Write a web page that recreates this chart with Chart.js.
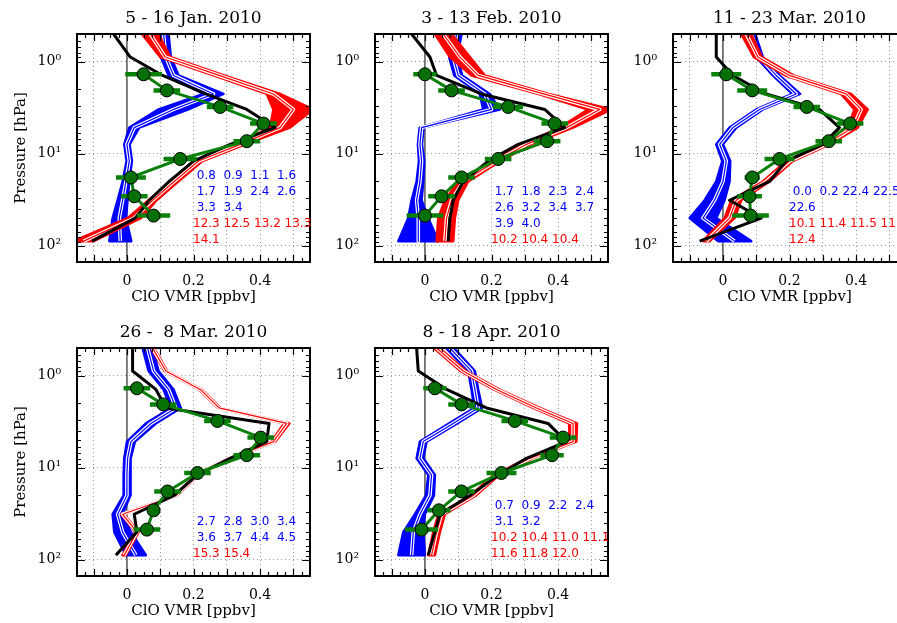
<!DOCTYPE html>
<html>
<head>
<meta charset="utf-8">
<script src="https://cdn.jsdelivr.net/npm/chart.js@4.4.1/dist/chart.umd.min.js"></script>
<style>
  html, body { margin: 0; padding: 0; background: #fff; width: 897px; height: 623px; overflow: hidden; position: relative; }
  .panel { position: absolute; width: 320px; height: 310px; }
</style>
</head>
<body>
<div class="panel" style="left:0;top:0"><canvas id="c0" width="320" height="310"></canvas></div>
<div class="panel" style="left:298px;top:0"><canvas id="c1" width="320" height="310"></canvas></div>
<div class="panel" style="left:596px;top:0"><canvas id="c2" width="320" height="310"></canvas></div>
<div class="panel" style="left:0;top:314px"><canvas id="c3" width="320" height="310"></canvas></div>
<div class="panel" style="left:298px;top:314px"><canvas id="c4" width="320" height="310"></canvas></div>
<script>
/* ===== ClO profiles : model (blue / red), black run, observations (green) ===== */

// pressure levels [hPa]
const MODEL_P = [0.5, 0.89, 1.41, 2.24, 3.3, 5.2, 7.9, 12, 20, 32, 50, 89];
const OBS_P = [1.37, 2.05, 3.1, 4.7, 7.3, 11.4, 18.1, 29, 47];

// axes
const X_GRID = [-0.1, 0, 0.1, 0.2, 0.3, 0.4, 0.5];
const X_LABELS = [0, 0.2, 0.4];
const Y_TICKS = [1, 10, 100];
const Y_LABELS = ['10⁰', '10¹', '10²'];

const TITLES = ['5 - 16 Jan. 2010', '3 - 13 Feb. 2010', '11 - 23 Mar. 2010', '26 -  8 Mar. 2010', '8 - 18 Apr. 2010'];

// ---- 5 - 16 Jan ----
const janBlue   = [0.11, 0.117, 0.14, 0.26, 0.14, 0.022, 0.0, 0.007, -0.003, -0.013, -0.023, -0.02];
const janBlueW  = [0.015, 0.015, 0.015, 0.03, 0.045, 0.015, 0.008, 0.008, 0.01, 0.015, 0.02, 0.033];
const janRed    = [0.07, 0.115, 0.277, 0.44, 0.50, 0.46, 0.34, 0.215, 0.142, 0.077, 0.022, -0.13];
const janRedW   = [0.025, 0.015, 0.015, 0.02, 0.06, 0.03, 0.015, 0.012, 0.012, 0.012, 0.02, 0.03];
const janBlack  = [-0.04, 0.01, 0.107, 0.237, 0.36, 0.445, 0.31, 0.2, 0.127, 0.067, 0.025, -0.105];
const janObs    = [0.05, 0.12, 0.28, 0.41, 0.36, 0.16, 0.012, 0.022, 0.08];
const janObsErr = [0.055, 0.04, 0.04, 0.04, 0.04, 0.05, 0.045, 0.04, 0.05];
const janBlueTxt = [0.8, 0.9, 1.1, 1.6, 1.7, 1.9, 2.4, 2.6, 3.3, 3.4];
const janRedTxt  = [12.3, 12.5, 13.2, 13.3, 14.1];

// ---- 3 - 13 Feb ----
const febBlue   = [0.095, 0.085, 0.1, 0.18, 0.2, -0.01, -0.015, -0.01, -0.015, -0.025, -0.02, -0.02];
const febBlueW  = [0.015, 0.012, 0.012, 0.015, 0.025, 0.006, 0.006, 0.008, 0.01, 0.015, 0.03, 0.06];
const febRed    = [0.055, 0.105, 0.16, 0.357, 0.525, 0.425, 0.305, 0.215, 0.115, 0.08, 0.065, 0.06];
const febRedW   = [0.025, 0.03, 0.02, 0.015, 0.035, 0.02, 0.012, 0.012, 0.015, 0.02, 0.025, 0.025];
const febBlack  = [-0.04, 0.015, 0.035, 0.17, 0.36, 0.42, 0.28, 0.19, 0.115, 0.085, 0.075, 0.07];
const febObs    = [0.0, 0.08, 0.25, 0.39, 0.367, 0.22, 0.11, 0.05, 0.0];
const febObsErr = [0.035, 0.04, 0.045, 0.04, 0.04, 0.04, 0.04, 0.04, 0.055];
const febBlueTxt = [1.7, 1.8, 2.3, 2.4, 2.6, 3.2, 3.4, 3.7, 3.9, 4.0];
const febRedTxt  = [10.2, 10.4, 10.4];

// ---- 11 - 23 Mar ----
const marBlue   = [0.085, 0.11, 0.16, 0.22, 0.11, 0.03, -0.01, 0.01, 0.0, -0.025, -0.06, 0.035];
const marBlueW  = [0.012, 0.01, 0.01, 0.012, 0.01, 0.01, 0.01, 0.012, 0.02, 0.03, 0.04, 0.05];
const marRed    = [0.07, 0.105, 0.2, 0.37, 0.415, 0.39, 0.31, 0.2, 0.13, 0.04, 0.02, -0.05];
const marRedW   = [0.015, 0.012, 0.012, 0.015, 0.02, 0.015, 0.01, 0.01, 0.01, 0.015, 0.015, 0.01];
const marBlack  = [-0.02, -0.02, 0.03, 0.13, 0.29, 0.35, 0.3, 0.19, 0.14, 0.02, 0.115, -0.07];
const marObs    = [0.01, 0.088, 0.252, 0.382, 0.318, 0.17, 0.088, 0.08, 0.083];
const marObsErr = [0.045, 0.045, 0.04, 0.04, 0.04, 0.045, 0.023, 0.037, 0.055];
const marBlueTxt = [0.0, 0.2, 22.4, 22.5, 22.6];
const marRedTxt  = [10.1, 11.4, 11.5, 11.7, 12.4];

// ---- 26 - 8 Mar ----
const earlyBlue   = [0.062, 0.08, 0.125, 0.147, 0.072, 0.012, 0.002, 0.0, 0.0, -0.028, -0.013, 0.027];
const earlyBlueW  = [0.015, 0.015, 0.015, 0.015, 0.015, 0.012, 0.01, 0.01, 0.01, 0.015, 0.025, 0.03];
const earlyRed    = [0.077, 0.117, 0.22, 0.277, 0.48, 0.44, 0.31, 0.21, 0.147, -0.013, 0.03, -0.008];
const earlyRedW   = [0.004, 0.004, 0.004, 0.004, 0.008, 0.006, 0.004, 0.004, 0.004, 0.004, 0.005, 0.005];
const earlyBlack  = [0.017, 0.017, 0.087, 0.117, 0.427, 0.42, 0.31, 0.21, 0.142, 0.022, 0.03, -0.033];
const earlyObs    = [0.03, 0.109, 0.272, 0.402, 0.36, 0.212, 0.122, 0.08, 0.06];
const earlyObsErr = [0.04, 0.04, 0.04, 0.04, 0.04, 0.04, 0.04, 0.02, 0.04];
const earlyBlueTxt = [2.7, 2.8, 3.0, 3.4, 3.6, 3.7, 4.4, 4.5];
const earlyRedTxt  = [15.3, 15.4];

// ---- 8 - 18 Apr ----
const aprBlue   = [0.075, 0.14, 0.15, 0.16, 0.085, -0.005, -0.015, 0.02, 0.015, -0.015, -0.035, -0.04];
const aprBlueW  = [0.012, 0.01, 0.01, 0.012, 0.012, 0.01, 0.01, 0.01, 0.012, 0.015, 0.03, 0.04];
const aprRed    = [0.035, 0.115, 0.215, 0.335, 0.445, 0.445, 0.315, 0.215, 0.145, 0.05, 0.035, 0.02];
const aprRedW   = [0.008, 0.008, 0.008, 0.01, 0.012, 0.01, 0.008, 0.008, 0.008, 0.01, 0.01, 0.01];
const aprBlack  = [-0.025, -0.02, 0.065, 0.185, 0.37, 0.425, 0.305, 0.22, 0.135, 0.045, 0.03, 0.01];
const aprObs    = [0.03, 0.11, 0.27, 0.415, 0.382, 0.23, 0.11, 0.042, -0.01];
const aprObsErr = [0.035, 0.04, 0.04, 0.04, 0.035, 0.045, 0.04, 0.035, 0.05];
const aprBlueTxt = [0.7, 0.9, 2.2, 2.4, 3.1, 3.2];
const aprRedTxt  = [10.2, 10.4, 11.0, 11.1, 11.6, 11.8, 12.0];

const PANELS = [
  { id: 'c0', yTitle: true,  title: TITLES[0], blue: janBlue, blueW: janBlueW, red: janRed, redW: janRedW, black: janBlack, obs: janObs, err: janObsErr, blueTxt: janBlueTxt, redTxt: janRedTxt },
  { id: 'c1', yTitle: false, title: TITLES[1], blue: febBlue, blueW: febBlueW, red: febRed, redW: febRedW, black: febBlack, obs: febObs, err: febObsErr, blueTxt: febBlueTxt, redTxt: febRedTxt },
  { id: 'c2', yTitle: false, title: TITLES[2], blue: marBlue, blueW: marBlueW, red: marRed, redW: marRedW, black: marBlack, obs: marObs, err: marObsErr, blueTxt: marBlueTxt, redTxt: marRedTxt },
  { id: 'c3', yTitle: true,  title: TITLES[3], blue: earlyBlue, blueW: earlyBlueW, red: earlyRed, redW: earlyRedW, black: earlyBlack, obs: earlyObs, err: earlyObsErr, blueTxt: earlyBlueTxt, redTxt: earlyRedTxt },
  { id: 'c4', yTitle: false, title: TITLES[4], blue: aprBlue, blueW: aprBlueW, red: aprRed, redW: aprRedW, black: aprBlack, obs: aprObs, err: aprObsErr, blueTxt: aprBlueTxt, redTxt: aprRedTxt }
];

const SERIF = 'DejaVu Serif';
const GREEN = '#0a800a';

// ---- helpers ----
function profile(xs, ps) {
  return xs.map((v, i) => ({ x: v, y: ps[i] }));
}

function band(c, w, ps) {
  const lo = c.map((v, i) => ({ x: v - w[i], y: ps[i] }));
  const hi = c.map((v, i) => ({ x: v + w[i], y: ps[i] })).reverse();
  return lo.concat(hi);
}

function errorBars(v, e, ps) {
  const out = [];
  v.forEach((val, i) => {
    out.push({ x: val - e[i], y: ps[i] }, { x: val + e[i], y: ps[i] }, { x: NaN, y: NaN });
  });
  return out;
}

function textLines(blue, red) {
  const fmt = v => v.toFixed(1).padStart(4, ' ');
  const lines = [];
  for (let i = 0; i < blue.length; i += 4) lines.push({ color: '#0000ff', text: blue.slice(i, i + 4).map(fmt).join(' ') });
  for (let i = 0; i < red.length; i += 4) lines.push({ color: '#ff0000', text: red.slice(i, i + 4).map(fmt).join(' ') });
  return lines;
}

// zero line, inside ticks, frame, numbers, title
const decoPlugin = {
  id: 'panelDeco',
  beforeDatasetsDraw(chart) {
    const { ctx, chartArea: a, scales: { x } } = chart;
    const x0 = x.getPixelForValue(0);
    ctx.save();
    ctx.strokeStyle = '#3a3a3a';
    ctx.lineWidth = 1.3;
    ctx.beginPath();
    ctx.moveTo(x0, a.top);
    ctx.lineTo(x0, a.bottom);
    ctx.stroke();
    ctx.restore();
  },
  afterDatasetsDraw(chart, args, opts) {
    const { ctx, chartArea: a, scales: { x, y } } = chart;
    ctx.save();
    ctx.strokeStyle = '#000';
    ctx.lineWidth = 1.2;
    ctx.beginPath();
    // x ticks every 0.025, longer every 0.1
    for (let k = -6; k <= 22; k++) {
      const px = Math.round(x.getPixelForValue(k / 40)) + 0.5;
      if (px < a.left + 1 || px > a.right - 1) continue;
      const len = k % 4 === 0 ? 7 : 4;
      ctx.moveTo(px, a.bottom); ctx.lineTo(px, a.bottom - len);
      ctx.moveTo(px, a.top); ctx.lineTo(px, a.top + len);
    }
    // y ticks : decades + 2..9
    [0.1, 1, 10, 100].forEach(d => {
      for (let m = 1; m <= 9; m++) {
        const v = m * d;
        if (v < 0.5 || v > 150) continue;
        const py = Math.round(y.getPixelForValue(v)) + 0.5;
        const len = m === 1 ? 8 : 4;
        ctx.moveTo(a.left, py); ctx.lineTo(a.left + len, py);
        ctx.moveTo(a.right, py); ctx.lineTo(a.right - len, py);
      }
    });
    ctx.stroke();
    ctx.lineWidth = 2;
    ctx.strokeRect(a.left, a.top, a.right - a.left, a.bottom - a.top);

    // numbers block, bottom anchored
    const lines = opts.lines || [];
    ctx.font = '12px "DejaVu Sans"';
    ctx.textAlign = 'left';
    ctx.textBaseline = 'middle';
    lines.forEach((ln, i) => {
      ctx.fillStyle = ln.color;
      ctx.fillText(ln.text, a.left + 116, a.top + 206 - 16 * (lines.length - 1 - i));
    });

    // title centred on the plot area
    ctx.fillStyle = '#000';
    ctx.font = '17px "' + SERIF + '"';
    ctx.textAlign = 'center';
    ctx.fillText(opts.title || '', (a.left + a.right) / 2, 19);
    ctx.restore();
  }
};

function makePanel(p) {
  const line = (data, color, width, order) => ({
    data, borderColor: color, borderWidth: width, pointRadius: 0,
    fill: false, tension: 0, order, borderJoinStyle: 'round'
  });
  const shape = (data, color, order) => ({
    data, borderColor: color, backgroundColor: color, borderWidth: 2.5,
    pointRadius: 0, fill: 'shape', tension: 0, order, borderJoinStyle: 'round'
  });

  const datasets = [
    {
      data: profile(p.obs, OBS_P), showLine: false, pointRadius: 6.5,
      pointBackgroundColor: '#067006', pointBorderColor: '#000', pointBorderWidth: 1, order: 0
    },
    line(profile(p.obs, OBS_P), GREEN, 3, 1),
    line(errorBars(p.obs, p.err, OBS_P), GREEN, 4.5, 2),
    line(profile(p.black, MODEL_P), '#000', 3, 3),
    line(profile(p.red, MODEL_P), '#ff0000', 1.2, 4),
    line(profile(p.red, MODEL_P), '#ffffff', 3.6, 5),
    shape(band(p.red, p.redW, MODEL_P), '#ff0000', 6),
    line(profile(p.blue, MODEL_P), '#0000ff', 1.2, 7),
    line(profile(p.blue, MODEL_P), '#ffffff', 3.6, 8),
    shape(band(p.blue, p.blueW, MODEL_P), '#0000ff', 9)
  ];

  const font = { family: SERIF, size: 14 };
  const gridDots = '#9a9a9a';

  return new Chart(document.getElementById(p.id), {
    type: 'line',
    data: { datasets },
    options: {
      responsive: false,
      devicePixelRatio: 1,
      animation: false,
      events: [],
      layout: { padding: { top: 34, right: 10, left: 0, bottom: 0 } },
      plugins: {
        legend: { display: false },
        tooltip: { enabled: false },
        title: { display: false },
        panelDeco: { title: p.title, lines: textLines(p.blueTxt, p.redTxt) }
      },
      scales: {
        x: {
          type: 'linear',
          min: -0.15,
          max: 0.55,
          afterBuildTicks: s => { s.ticks = X_GRID.map(v => ({ value: v })); },
          afterFit: s => { s.height = 48; },
          ticks: {
            callback: v => (X_LABELS.includes(v) ? String(v) : ''),
            font, color: '#000', padding: 11, maxRotation: 0, autoSkip: false
          },
          grid: {
            color: c => (c.tick && c.tick.value === 0 ? 'rgba(0,0,0,0)' : gridDots),
            lineWidth: 1, drawTicks: false
          },
          border: { display: false, dash: [1, 3] },
          title: { display: true, text: 'ClO VMR [ppbv]', font: { family: SERIF, size: 15 }, color: '#000', padding: { top: 0, bottom: 4 } }
        },
        y: {
          type: 'logarithmic',
          min: 0.5,
          max: 150,
          reverse: true,
          afterBuildTicks: s => { s.ticks = Y_TICKS.map(v => ({ value: v })); },
          afterFit: s => { s.width = 77; },
          ticks: {
            callback: v => Y_LABELS[Y_TICKS.indexOf(v)] || '',
            font, color: '#000', padding: 16, autoSkip: false
          },
          grid: { color: gridDots, lineWidth: 1, drawTicks: false },
          border: { display: false, dash: [1, 3] },
          title: { display: p.yTitle, text: 'Pressure [hPa]', font: { family: SERIF, size: 15 }, color: '#000', padding: { top: 12, bottom: 0 } }
        }
      }
    },
    plugins: [decoPlugin]
  });
}

PANELS.forEach(makePanel);
</script>
</body>
</html>
